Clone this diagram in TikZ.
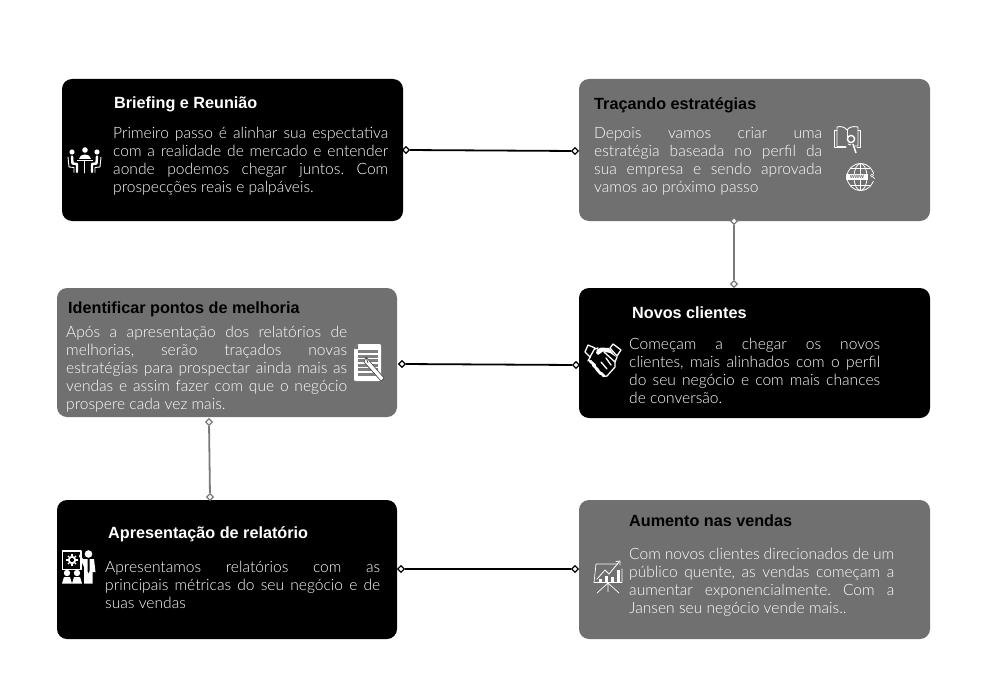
\documentclass[tikz,border=0pt]{standalone}
\usepackage{fontspec}
\setmainfont{Lato Light}[BoldFont=Liberation Sans Bold]
\newfontfamily\headfont{Liberation Sans}[BoldFont=Liberation Sans Bold]
\usetikzlibrary{shapes.geometric}
\definecolor{panelgray}{HTML}{707070}
\definecolor{linegray}{HTML}{7A7A7A}
\tikzset{
  x=1pt,y=-1pt,
  darkbox/.style={fill=black,rounded corners=10pt},
  graybox/.style={fill=panelgray,rounded corners=10pt},
  headlight/.style={anchor=base west,inner sep=0pt,text=white,font=\headfont\bfseries\fontsize{16.2}{18}\selectfont},
  headdark/.style={anchor=base west,inner sep=0pt,text=black,font=\headfont\bfseries\fontsize{16.2}{18}\selectfont},
  bodytext/.style={anchor=north west,inner sep=0pt,text=white,align=justify,font=\frenchspacing\fontsize{15.6}{18}\selectfont},
  dia/.style={diamond,draw=#1,fill=white,line width=1.3pt,minimum size=7pt,inner sep=0pt},
  link/.style={draw=#1,line width=1.8pt},
  ico/.style={draw=white,line width=0.9pt,line cap=round,line join=round,fill=none},
  icof/.style={fill=white,draw=none}
}
\begin{document}
\begin{tikzpicture}
\useasboundingbox (0,0) rectangle (992,698);
\fill[white] (0,0) rectangle (992,698);
% panels
\path[darkbox] (62,79) rectangle (403,221);
\path[graybox] (579,79) rectangle (930,221);
\path[darkbox] (579,288) rectangle (930,418);
\path[graybox] (57,288) rectangle (397,417);
\path[darkbox] (57,500) rectangle (397,639);
\path[graybox] (579,500) rectangle (930,639);
% connectors
\node[dia=black] (a1) at (406,150) {};
\node[dia=black] (a2) at (575,151) {};
\draw[link=black] (a1) -- (a2);
\node[dia=linegray] (b1) at (734,221) {};
\node[dia=linegray] (b2) at (734,284) {};
\draw[link=linegray] (b1) -- (b2);
\node[dia=black] (c1) at (402,364) {};
\node[dia=black] (c2) at (576,365) {};
\draw[link=black] (c1) -- (c2);
\node[dia=linegray] (d1) at (209,422) {};
\node[dia=linegray] (d2) at (210,497) {};
\draw[link=linegray] (d1) -- (d2);
\node[dia=black] (e1) at (401,569) {};
\node[dia=black] (e2) at (575,569) {};
\draw[link=black] (e1) -- (e2);
% headings
\node[headlight] (t1) at (114,109) {Briefing e Reunião};
\node[headdark] (t2) at (594,110) {Traçando estratégias};
\node[headlight] (t3) at (632,318) {Novos clientes};
\node[headdark] (t4) at (68,313) {Identificar pontos de melhoria};
\node[headlight] (t5) at (108,538.5) {Apresentação de relatório};
\node[headdark] (t6) at (629,526) {Aumento nas vendas};
% body text
\node[bodytext,text width=275pt] (x1) at (113,126.5) {Primeiro passo é alinhar sua espectativa\linebreak com a realidade de mercado e entender\linebreak aonde podemos chegar juntos. Com\linebreak prospecções reais e palpáveis.};
\node[bodytext,text width=228pt] (x2) at (594,127) {Depois vamos criar uma\linebreak estratégia baseada no perfil da\linebreak sua empresa e sendo aprovada\linebreak vamos ao próximo passo};
\node[bodytext,text width=251pt] (x3) at (629,338) {Começam a chegar os novos\linebreak clientes, mais alinhados com o perfil\linebreak do seu negócio e com mais chances\linebreak de conversão.};
\node[bodytext,text width=281pt] (x4) at (66,325.5) {Após a apresentação dos relatórios de\linebreak melhorias, serão traçados novas\linebreak estratégias para prospectar ainda mais as\linebreak vendas e assim fazer com que o negócio\linebreak prospere cada vez mais.};
\node[bodytext,text width=275pt] (x5) at (105,560.5) {Apresentamos relatórios com as\linebreak principais métricas do seu negócio e de\linebreak suas vendas};
\node[bodytext,text width=265pt] (x6) at (629,547.5) {Com novos clientes direcionados de um\linebreak público quente, as vendas começam a\linebreak aumentar exponencialmente. Com a\linebreak Jansen seu negócio vende mais..};
% icon: meeting
\fill[icof] (85,150) circle (2.8);
\fill[icof] (72,152) circle (2.6);
\fill[icof] (97,152) circle (2.6);
\fill[icof] (79,159) .. controls (79,152.5) and (91,152.5) .. (91,159) -- cycle;
\fill[icof] (77,159.5) rectangle (93,161);
\draw[ico] (84.5,161) -- (84.5,173);
\draw[ico,line width=2.4pt] (72,156.5) -- (72.5,163.5) -- (77,164) -- (77,172);
\draw[ico,line width=2.4pt] (97,156.5) -- (96.5,163.5) -- (92,164) -- (92,172);
\draw[ico] (68,157) -- (69,167) -- (74,167.5) -- (74,172.5);
\draw[ico] (101,157) -- (100,167) -- (95,167.5) -- (95,172.5);
% icon: book with seal
\draw[ico] (837,130) -- (834.5,130) -- (834.5,147.5) -- (846,147.5);
\draw[ico] (837,146) -- (837,127) .. controls (841,126) and (845,127) .. (847,130) .. controls (849,127) and (853,126) .. (858,127) -- (858,146) -- (855,146);
\draw[ico] (837,146) -- (846,146);
\draw[ico] (847,130) -- (847,137);
\draw[ico] (858,130) -- (860.5,130) -- (860.5,147.5) -- (857,147.5);
\draw[white,line width=1.4pt] (851,139) circle (3.6);
\draw[white,line width=1.5pt] (853,144) -- (856,153);
\draw[ico] (848,144) -- (851,145);
% icon: globe
\draw[ico,line width=0.8pt] (860.5,177) circle (13.5);
\draw[ico,line width=0.8pt] (860.5,177) ellipse (6.5 and 13.5);
\draw[ico,line width=0.8pt] (860.5,163.5) -- (860.5,190.5);
\draw[ico,line width=0.8pt] (851,168.5) -- (870,168.5) (851,185.5) -- (870,185.5);
\fill[white] (846,174) rectangle (868,180);
\fill[panelgray] (868,174) rectangle (876,180.5);
\node[inner sep=0pt,text=panelgray,font=\headfont\bfseries\fontsize{6}{6}\selectfont] (www) at (857,177) {www};
\draw[white,line width=0.6pt] (872,175.5) circle (1.5) (873,177) -- (875,179);
% icon: handshake
\draw[ico,line width=1.3pt] (588,345) -- (595,348) -- (590,357) -- (585,352) -- cycle;
\draw[ico,line width=1.3pt] (613,344) -- (621,350) -- (617,356) -- (610,348) -- cycle;
\fill[icof] (597,349.5) -- (601,347.5) -- (609,348) -- (616,357) -- (610,353) -- (603,351.5) -- (598,355) -- (596,353) -- cycle;
\draw[ico,line width=1.3pt] (595,349) -- (598,348) (590.5,356.5) -- (588,361);
\draw[ico,line width=1.3pt] (604,352) -- (615,362) -- (617,357);
\draw[ico,line width=2.8pt] (590,361) -- (595,365.5) (593,365) -- (598,370) (596.5,369) -- (601,374) (601,373) -- (604,376);
\draw[ico,line width=1.3pt] (603,376.5) -- (607,376) -- (615,367) -- (615,362) (601,362) -- (607,369) (606,358) -- (611,365);
% icon: document with pen
\path[fill=white] (358,344) -- (379,344) .. controls (381,344) and (381,345) .. (381,346) -- (381,379) .. controls (381,381) and (380,381) .. (379,381) -- (356,381) .. controls (354,381) and (354,380) .. (354,379) -- (354,349) -- cycle;
\path[fill=panelgray] (358,344) -- (358,349) -- (354,349) -- cycle;
\foreach \yy in {350,354.5,359,363.5,368,372.5}
  \fill[gray] (358,\yy) rectangle (378,\yy+3);
\fill[white] (366,357) -- (384,378) -- (381,381) -- (364,362) -- cycle;
\draw[black!70,line width=0.7pt] (366,357) -- (384,378) -- (381,381) -- (364,362) -- cycle;
\draw[black!70,line width=0.7pt] (366,357) -- (368,363);
% icon: presentation
\draw[ico,line width=1.1pt] (62.5,551) rectangle (81,569.5);
\draw[white,line width=1.8pt] (72,560) circle (3.2);
\foreach \aa in {0,45,...,315}
  \draw[white,line width=1.1pt] (72,560) ++(\aa:3.8) -- ++(\aa:2);
\fill[icof] (88.5,554) circle (3.8);
\fill[icof] (83,559) -- (94,559) -- (95.5,572) -- (92.5,572) -- (92.5,583.5) -- (84,583.5) -- (84,567) -- (79,556) -- (80,554) -- cycle;
\fill[black] (87.5,559) -- (89.5,559) -- (89.5,571) -- (88.5,573) -- (87.5,571) -- cycle;
\fill[icof] (67,573) circle (3.2);
\fill[icof] (77,573) circle (3.2);
\fill[icof] (62,583.5) -- (64,577) -- (70,577) -- (72,583.5) -- cycle;
\fill[icof] (72,583.5) -- (74,577) -- (80,577) -- (82,583.5) -- cycle;
% icon: chart on easel
\draw[ico,line width=0.7pt] (618,564) -- (596,564) -- (594,582.5) -- (622,582.5) -- (622,569);
\draw[ico,line width=0.8pt] (597,579) -- (605,570) -- (609,574) -- (619,562);
\draw[ico,line width=0.8pt] (616,561.5) -- (620,561) -- (620,565);
\fill[icof] (599,579) rectangle (602,582.5);
\fill[icof] (605,576) rectangle (608,582.5);
\fill[icof] (611,577) rectangle (614,582.5);
\fill[icof] (617,570) rectangle (620,582.5);
\draw[ico,line width=0.7pt] (608,583) -- (597,593) (608,583) -- (619,593) (608,583) -- (608,592);
\end{tikzpicture}
\end{document}
